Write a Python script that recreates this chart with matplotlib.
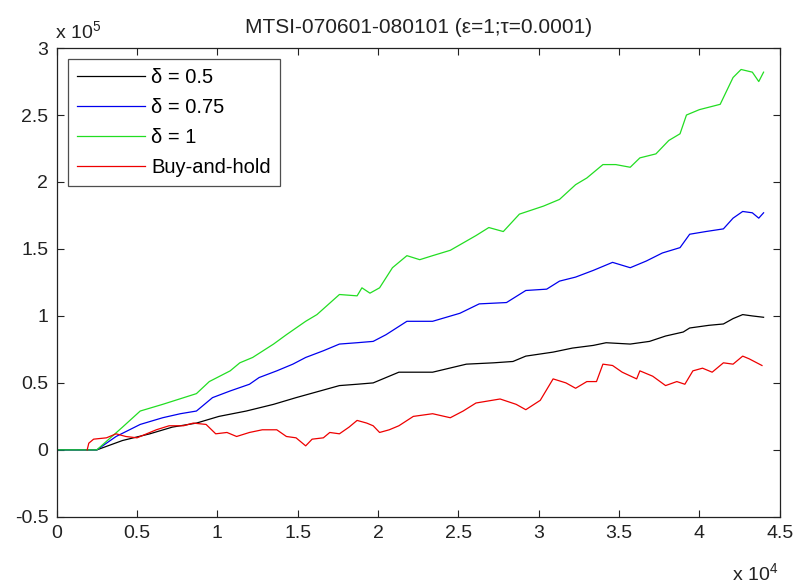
import matplotlib
matplotlib.use("Agg")
import matplotlib.pyplot as plt

plt.rcParams['font.family'] = ['Liberation Sans', 'DejaVu Sans']
plt.rcParams['mathtext.fontset'] = 'custom'
plt.rcParams['mathtext.rm'] = 'Liberation Sans'

# values: x in units of 1e4, y in units of 1e5
x_black = [0, 0.25, 0.41, 0.58, 0.72, 0.87, 1.01, 1.18, 1.35, 1.49, 1.64, 1.76, 1.87, 1.97,
           2.05, 2.13, 2.26, 2.34, 2.55, 2.72, 2.84, 2.92, 3.09, 3.21, 3.34, 3.42, 3.57,
           3.69, 3.79, 3.90, 3.94, 4.06, 4.15, 4.21, 4.27, 4.33, 4.40]
y_black = [0, 0, 0.07, 0.12, 0.17, 0.20, 0.25, 0.29, 0.34, 0.39, 0.44, 0.48, 0.49, 0.50,
           0.54, 0.58, 0.58, 0.58, 0.64, 0.65, 0.66, 0.70, 0.73, 0.76, 0.78, 0.80, 0.79,
           0.81, 0.85, 0.88, 0.91, 0.93, 0.94, 0.98, 1.01, 1.00, 0.99]

x_blue = [0, 0.25, 0.37, 0.52, 0.66, 0.77, 0.87, 0.97, 1.08, 1.20, 1.26, 1.37, 1.47, 1.55,
          1.66, 1.76, 1.87, 1.97, 2.05, 2.18, 2.26, 2.34, 2.51, 2.63, 2.80, 2.92, 3.05,
          3.13, 3.23, 3.34, 3.46, 3.57, 3.67, 3.77, 3.88, 3.94, 4.04, 4.15, 4.21, 4.27,
          4.33, 4.37, 4.40]
y_blue = [0, 0, 0.10, 0.19, 0.24, 0.27, 0.29, 0.39, 0.44, 0.49, 0.54, 0.59, 0.64, 0.69,
          0.74, 0.79, 0.80, 0.81, 0.86, 0.96, 0.96, 0.96, 1.02, 1.09, 1.10, 1.19, 1.20,
          1.26, 1.29, 1.34, 1.40, 1.36, 1.41, 1.47, 1.51, 1.61, 1.63, 1.65, 1.73, 1.78,
          1.77, 1.73, 1.77]

x_green = [0, 0.25, 0.41, 0.52, 0.66, 0.87, 0.95, 1.08, 1.14, 1.22, 1.35, 1.43, 1.55, 1.62,
           1.76, 1.87, 1.90, 1.95, 2.01, 2.09, 2.18, 2.26, 2.34, 2.45, 2.61, 2.69, 2.78,
           2.88, 3.03, 3.13, 3.23, 3.30, 3.40, 3.48, 3.57, 3.63, 3.73, 3.81, 3.88, 3.92,
           4.00, 4.13, 4.15, 4.21, 4.26, 4.33, 4.37, 4.40]
y_green = [0, 0, 0.17, 0.29, 0.34, 0.42, 0.51, 0.59, 0.65, 0.69, 0.79, 0.86, 0.96, 1.01,
           1.16, 1.15, 1.21, 1.17, 1.21, 1.36, 1.45, 1.42, 1.45, 1.49, 1.60, 1.66, 1.63,
           1.76, 1.82, 1.87, 1.98, 2.03, 2.13, 2.13, 2.11, 2.18, 2.21, 2.31, 2.36, 2.50,
           2.54, 2.58, 2.63, 2.78, 2.84, 2.82, 2.75, 2.82]

x_red = [0.19, 0.20, 0.23, 0.31, 0.37, 0.43, 0.50, 0.56, 0.62, 0.70, 0.79, 0.85, 0.93, 0.99,
         1.06, 1.12, 1.20, 1.28, 1.37, 1.43, 1.49, 1.55, 1.59, 1.66, 1.70, 1.76, 1.82,
         1.87, 1.93, 1.97, 2.01, 2.07, 2.13, 2.22, 2.34, 2.45, 2.53, 2.61, 2.76, 2.86,
         2.92, 3.01, 3.09, 3.17, 3.23, 3.30, 3.36, 3.40, 3.46, 3.52, 3.61, 3.63, 3.71,
         3.79, 3.86, 3.91, 3.96, 4.02, 4.08, 4.15, 4.21, 4.27, 4.31, 4.39]
y_red = [0, 0.05, 0.08, 0.09, 0.12, 0.10, 0.09, 0.12, 0.15, 0.18, 0.18, 0.20, 0.19, 0.12,
         0.13, 0.10, 0.13, 0.15, 0.15, 0.10, 0.09, 0.03, 0.08, 0.09, 0.13, 0.12, 0.17,
         0.22, 0.20, 0.18, 0.13, 0.15, 0.18, 0.25, 0.27, 0.24, 0.29, 0.35, 0.38, 0.34,
         0.30, 0.37, 0.53, 0.50, 0.46, 0.51, 0.51, 0.64, 0.63, 0.58, 0.53, 0.59, 0.55,
         0.48, 0.51, 0.49, 0.59, 0.61, 0.58, 0.65, 0.64, 0.70, 0.68, 0.63]

labels = ["δ = 0.5", "δ = 0.75", "δ = 1", "Buy-and-hold"]
x_ticks = [0, 0.5, 1, 1.5, 2, 2.5, 3, 3.5, 4, 4.5]
y_ticks = [-0.5, 0, 0.5, 1, 1.5, 2, 2.5, 3]

fig = plt.figure(figsize=(7.98, 5.86), dpi=100)
ax = fig.add_axes([0.071, 0.118, 0.906, 0.800])

ax.plot(x_black, y_black, color='black', lw=0.9, label=labels[0])
ax.plot(x_blue, y_blue, color='#0000ee', lw=0.9, label=labels[1])
ax.plot(x_green, y_green, color='#22dd22', lw=0.9, label=labels[2])
ax.plot(x_red, y_red, color='#ee0000', lw=0.9, label=labels[3])

ax.set_xlim(0, 4.5)
ax.set_ylim(-0.5, 3)
ax.set_xticks(x_ticks)
ax.set_yticks(y_ticks)
ax.set_xticklabels(["%g" % v for v in x_ticks])
ax.set_yticklabels(["%g" % v for v in y_ticks])
ax.tick_params(direction='in', length=5, top=True, right=True, labelsize=14,
               pad=6, colors='#222222')
for s in ax.spines.values():
    s.set_linewidth(0.9)
    s.set_color('#222222')

ax.set_title("MTSI-070601-080101 (ε=1;τ=0.0001)", fontsize=15, pad=11, color='#222222')
fig.text(0.069, 0.933, "x 10$^{\\mathrm{5}}$", fontsize=14, va='baseline', color='#222222')
fig.text(0.917, 0.009, "x 10$^{\\mathrm{4}}$", fontsize=14, va='baseline', color='#222222')

leg = ax.legend(loc='upper left', fontsize=14.5, fancybox=False, edgecolor='#222222',
                handlelength=3.4, borderaxespad=0.55, labelspacing=0.55,
                handletextpad=0.3, borderpad=0.45)
leg.get_frame().set_linewidth(0.9)

plt.savefig("out.png", dpi=100)
